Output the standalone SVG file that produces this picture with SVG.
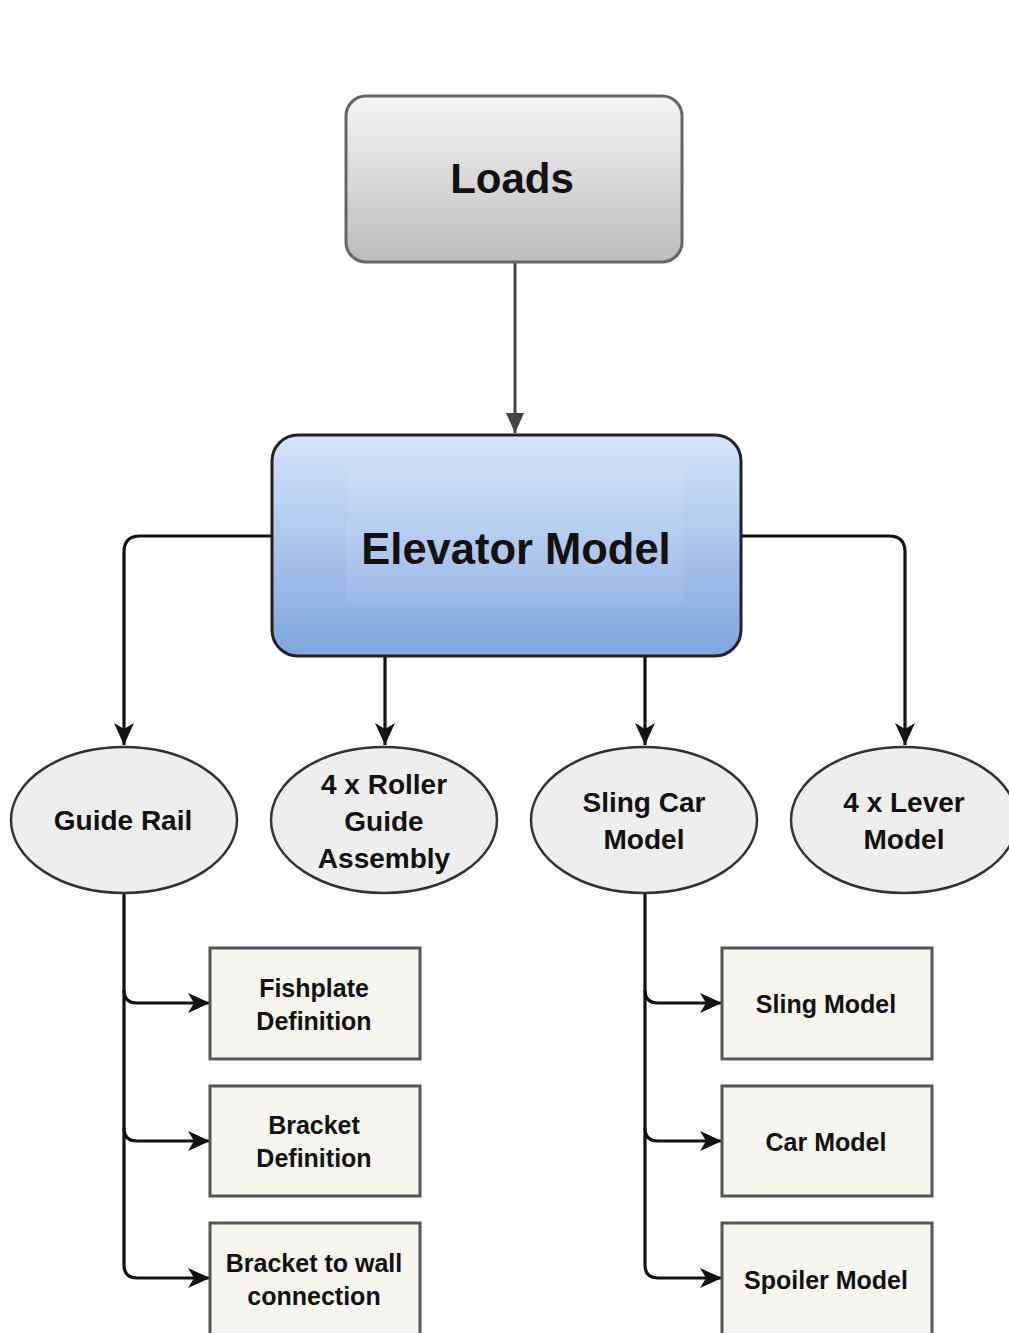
<svg xmlns="http://www.w3.org/2000/svg" width="1009" height="1333" viewBox="0 0 1009 1333">
<style>
.lbl{font-family:"Liberation Sans",Arial,sans-serif;font-weight:bold;fill:#111;text-anchor:middle}
.ell{fill:#eeeeee;stroke:#333;stroke-width:2.5}
.box{fill:#f6f5ee;stroke:#555;stroke-width:3}
.conn{fill:none;stroke:#111;stroke-width:3.2}
</style>
<defs>
<linearGradient id="gGray" x1="0" y1="0" x2="0" y2="1">
<stop offset="0" stop-color="#f5f5f5"/>
<stop offset="1" stop-color="#bcbcbc"/>
</linearGradient>
<linearGradient id="gBlue" x1="0" y1="0" x2="0" y2="1">
<stop offset="0" stop-color="#d6e5f9"/>
<stop offset="1" stop-color="#7fa6de"/>
</linearGradient>
<marker id="ahBig" viewBox="0 0 22 20" refX="22" refY="10" markerWidth="22" markerHeight="20" orient="auto" markerUnits="userSpaceOnUse">
<path d="M0,0 L22,10 L0,20 L6,10 Z" fill="#111"/>
</marker>
<marker id="ahGray" viewBox="0 0 20 18" refX="20" refY="9" markerWidth="20" markerHeight="18" orient="auto" markerUnits="userSpaceOnUse">
<path d="M0,0 L20,9 L0,18 Z" fill="#444"/>
</marker>
</defs>
<rect width="1009" height="1333" fill="#ffffff"/>

<g id="connectors">
<path d="M515,263 V433" fill="none" stroke="#444" stroke-width="3" marker-end="url(#ahGray)"/>
<path class="conn" d="M272,536 H140 Q124,536 124,552 V745" marker-end="url(#ahBig)"/>
<path class="conn" d="M741,536 H889 Q905,536 905,552 V745" marker-end="url(#ahBig)"/>
<path class="conn" d="M385,656 V745" marker-end="url(#ahBig)"/>
<path class="conn" d="M645,656 V745" marker-end="url(#ahBig)"/>
<path class="conn" d="M124,893 V1265 Q124,1278 137,1278 H210" marker-end="url(#ahBig)"/>
<path class="conn" d="M124,990 Q124,1003 137,1003 H210" marker-end="url(#ahBig)"/>
<path class="conn" d="M124,1128 Q124,1141 137,1141 H210" marker-end="url(#ahBig)"/>
<path class="conn" d="M645,893 V1265 Q645,1278 658,1278 H722" marker-end="url(#ahBig)"/>
<path class="conn" d="M645,990 Q645,1003 658,1003 H722" marker-end="url(#ahBig)"/>
<path class="conn" d="M645,1128 Q645,1141 658,1141 H722" marker-end="url(#ahBig)"/>
</g>

<g id="loads">
<rect x="346" y="96" width="336" height="166" rx="20" fill="url(#gGray)" stroke="#666" stroke-width="3"/>
<text class="lbl" x="512" y="193" font-size="42">Loads</text>
</g>

<g id="elevator-model">
<rect x="272" y="435" width="469" height="221" rx="26" fill="url(#gBlue)" stroke="#222" stroke-width="3"/>
<rect x="346" y="470" width="337" height="133" fill="#ffffff" fill-opacity="0.08"/>
<text class="lbl" x="516" y="564" font-size="43.5">Elevator Model</text>
</g>

<g id="guide-rail">
<ellipse class="ell" cx="124" cy="820" rx="113" ry="73"/>
<text class="lbl" x="123" y="830" font-size="28">Guide Rail</text>
</g>

<g id="roller-guide">
<ellipse class="ell" cx="384" cy="820" rx="113" ry="73"/>
<text class="lbl" font-size="28"><tspan x="384" y="794">4 x Roller</tspan><tspan x="384" y="831">Guide</tspan><tspan x="384" y="868">Assembly</tspan></text>
</g>

<g id="sling-car">
<ellipse class="ell" cx="644" cy="820" rx="113" ry="73"/>
<text class="lbl" font-size="28"><tspan x="644" y="812">Sling Car</tspan><tspan x="644" y="849">Model</tspan></text>
</g>

<g id="lever">
<ellipse class="ell" cx="904" cy="820" rx="113" ry="73"/>
<text class="lbl" font-size="28"><tspan x="904" y="812">4 x Lever</tspan><tspan x="904" y="849">Model</tspan></text>
</g>

<g id="fishplate">
<rect class="box" x="210" y="948" width="210" height="111"/>
<text class="lbl" font-size="25"><tspan x="314" y="997">Fishplate</tspan><tspan x="314" y="1030">Definition</tspan></text>
</g>

<g id="bracket">
<rect class="box" x="210" y="1086" width="210" height="110"/>
<text class="lbl" font-size="25"><tspan x="314" y="1134">Bracket</tspan><tspan x="314" y="1167">Definition</tspan></text>
</g>

<g id="bracket-wall">
<rect class="box" x="210" y="1223" width="210" height="120"/>
<text class="lbl" font-size="25"><tspan x="314" y="1272">Bracket to wall</tspan><tspan x="314" y="1305">connection</tspan></text>
</g>

<g id="sling-model">
<rect class="box" x="722" y="948" width="210" height="111"/>
<text class="lbl" x="826" y="1013" font-size="25">Sling Model</text>
</g>

<g id="car-model">
<rect class="box" x="722" y="1086" width="210" height="110"/>
<text class="lbl" x="826" y="1151" font-size="25">Car Model</text>
</g>

<g id="spoiler-model">
<rect class="box" x="722" y="1223" width="210" height="120"/>
<text class="lbl" x="826" y="1289" font-size="25">Spoiler Model</text>
</g>
</svg>
